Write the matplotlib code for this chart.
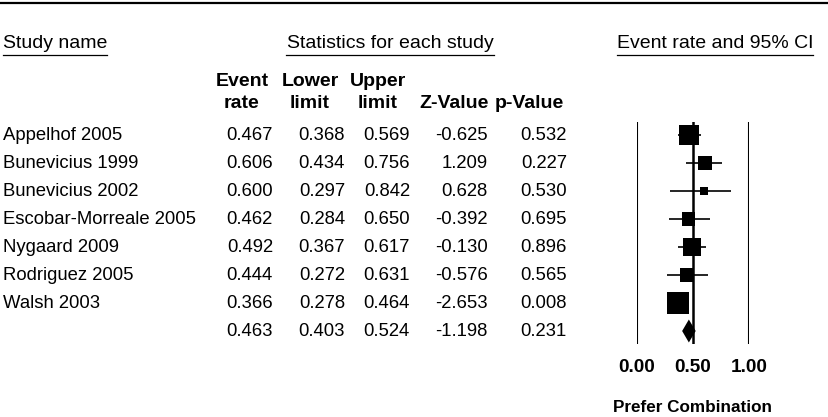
import matplotlib
matplotlib.use('Agg')
import matplotlib.pyplot as plt
import matplotlib.transforms as mtransforms
from matplotlib.lines import Line2D

plt.rcParams['font.family'] = ['Liberation Sans', 'DejaVu Sans']

# ---------------- data ----------------
studies = ["Appelhof 2005", "Bunevicius 1999", "Bunevicius 2002",
           "Escobar-Morreale 2005", "Nygaard 2009", "Rodriguez 2005", "Walsh 2003"]
event_rate = [0.467, 0.606, 0.600, 0.462, 0.492, 0.444, 0.366]
lower_limit = [0.368, 0.434, 0.297, 0.284, 0.367, 0.272, 0.278]
upper_limit = [0.569, 0.756, 0.842, 0.650, 0.617, 0.631, 0.464]
z_value = [-0.625, 1.209, 0.628, -0.392, -0.130, -0.576, -2.653]
p_value = [0.532, 0.227, 0.530, 0.695, 0.896, 0.565, 0.008]
rel_weight = [22.1, 10.9, 3.5, 9.4, 17.9, 9.4, 26.8]   # relative weights (%)

pooled_rate = 0.463
pooled_lower = 0.403
pooled_upper = 0.524
pooled_z = -1.198
pooled_p = 0.231

col_headers = [("Event", "rate"), ("Lower", "limit"), ("Upper", "limit"),
               ("", "Z-Value"), ("", "p-Value")]
section_titles = ["Study name", "Statistics for each study", "Event rate and 95% CI"]
x_ticks = [0.0, 0.5, 1.0]
x_label = "Prefer Combination"

# ---------------- layout ----------------
W, H = 829, 417
fig = plt.figure(figsize=(W / 100, H / 100), dpi=100)

ROW0, DROW = 135.0, 28.0          # pixel y of first row, row spacing
def row_of(ypx):
    return (ypx - ROW0) / DROW

plot_left, plot_right = 637, 749
plot_top, plot_bot = 122, 344
ax = fig.add_axes([plot_left / W, 1 - plot_bot / H,
                   (plot_right - plot_left) / W, (plot_bot - plot_top) / H])
ax.set_xlim(0, 1)
ax.set_ylim(row_of(plot_bot), row_of(plot_top))
for s in ax.spines.values():
    s.set_visible(False)
ax.set_yticks([])

trans = mtransforms.blended_transform_factory(fig.transFigure, ax.transData)

FS_DATA = 13.3
FS_HEAD = 14.0

# ---- forest plot ----
n = len(studies)
rows = list(range(n))
ax.axvline(0.0, color='black', lw=1.5, zorder=1)
ax.axvline(1.0, color='black', lw=1.5, zorder=1)
ax.axvline(0.5, color='black', lw=1.8, zorder=1)
ax.hlines(rows, lower_limit, upper_limit, color='black', lw=1.2, zorder=2)
sizes = [(4.25 * w ** 0.5 * 0.72) ** 2 for w in rel_weight]
ax.scatter(event_rate, rows, s=sizes, marker='s', color='black',
           edgecolors='none', zorder=3)
sr = n
hh = 0.41
ax.fill([pooled_lower, pooled_rate, pooled_upper, pooled_rate],
        [sr, sr - hh, sr, sr + hh], color='black', zorder=3, lw=0)

ax.set_xticks(x_ticks)
ax.set_xticklabels([f"{t:.2f}" for t in x_ticks], fontsize=13.7,
                   fontweight='bold')
ax.tick_params(axis='x', length=0, pad=11)
ax.text(0.5, (plot_bot - 407) / (plot_bot - plot_top), x_label,
        transform=ax.get_xaxis_transform(), ha='center', va='center',
        fontsize=12.3, fontweight='bold', clip_on=False)

# ---- table ----
for i, name in enumerate(studies):
    ax.text(3 / W, i, name, transform=trans, ha='left', va='center',
            fontsize=FS_DATA, clip_on=False)

col_right = [273, 345, 410, 488, 567]
col_center = [242, 310, 378, 454, 529]
columns = [event_rate + [pooled_rate], lower_limit + [pooled_lower],
           upper_limit + [pooled_upper], z_value + [pooled_z],
           p_value + [pooled_p]]
for c, vals in enumerate(columns):
    for i, v in enumerate(vals):
        ax.text(col_right[c] / W, i, f"{v:.3f}", transform=trans,
                ha='right', va='center', fontsize=FS_DATA, clip_on=False)
    h1, h2 = col_headers[c]
    if h1:
        ax.text(col_center[c] / W, row_of(82), h1, transform=trans,
                ha='center', va='center', fontsize=FS_HEAD,
                fontweight='bold', clip_on=False)
    ax.text(col_center[c] / W, row_of(104), h2, transform=trans,
            ha='center', va='center', fontsize=FS_HEAD,
            fontweight='bold', clip_on=False)

# section titles with underlines
title_x = [(3, 107, 'left'), (286, 494, 'center'), (617, 813, 'center')]
for t, (x0, x1, ha) in zip(section_titles, title_x):
    xt = x0 if ha == 'left' else (x0 + x1) / 2
    ax.text(xt / W, row_of(44), t, transform=trans, ha=ha, va='center',
            fontsize=FS_HEAD, clip_on=False)
    fig.add_artist(Line2D([x0 / W, x1 / W], [1 - 55 / H] * 2,
                          color='black', lw=0.9))

# top rule
fig.add_artist(Line2D([0, 1], [1 - 2.5 / H] * 2, color='black', lw=1.6))

fig.savefig('out.png', dpi=100)
